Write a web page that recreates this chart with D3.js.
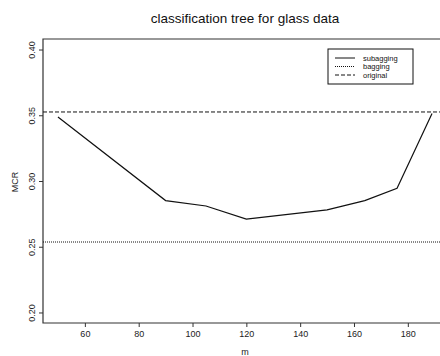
<!DOCTYPE html>
<html>
<head>
<meta charset="utf-8">
<script src="https://d3js.org/d3.v7.min.js"></script>
<style>
  body { margin: 0; background: #fff; }
  svg { display: block; font-family: "Liberation Sans", Arial, sans-serif; }
</style>
</head>
<body>
<div id="chart"></div>
<script>
// subagging curve (subsample size m vs misclassification rate)
const mValues = [50, 90, 105, 120, 150, 164, 176, 189];
const subagging = [0.3487, 0.2851, 0.2810, 0.2710, 0.2780, 0.2851, 0.2945, 0.3513];
const bagging = 0.2536;
const original = 0.3525;

const xTicks = [60, 80, 100, 120, 140, 160, 180];
const yTicks = [0.20, 0.25, 0.30, 0.35, 0.40];
const legendNames = ["subagging", "bagging", "original"];

const width = 440, height = 356;
const margin = { left: 43, right: -7, top: 39, bottom: 33 };

const svg = d3.select("#chart").append("svg")
  .attr("width", width)
  .attr("height", height);

// 4% extension like S graphics
const xScale = d3.scaleLinear()
  .domain([50 - 139 * 0.04, 189 + 139 * 0.04])
  .range([margin.left, width - margin.right]);
const yScale = d3.scaleLinear()
  .domain([0.2 - 0.008, 0.4 + 0.008])
  .range([height - margin.bottom, margin.top]);

const x0 = margin.left, x1 = width - margin.right;
const y0 = height - margin.bottom, y1 = margin.top;

/* plot box (right side runs off the page) */
svg.append("path")
  .attr("d", `M${x1},${y1}H${x0}V${y0}H${x1}`)
  .attr("fill", "none")
  .attr("stroke", "#333")
  .attr("stroke-width", 1.2);

/* axes */
const xAxis = svg.append("g")
  .attr("transform", `translate(0, ${y0})`)
  .call(d3.axisBottom(xScale).tickValues(xTicks).tickSize(4).tickSizeOuter(0).tickFormat(d3.format("d")));
xAxis.select(".domain").remove();
xAxis.selectAll("line").attr("stroke", "#333");
xAxis.selectAll("text")
  .attr("y", 8)
  .attr("fill", "#222")
  .style("font-size", "9px");

const yAxis = svg.append("g")
  .attr("transform", `translate(${x0}, 0)`)
  .call(d3.axisLeft(yScale).tickValues(yTicks).tickSize(4).tickSizeOuter(0).tickFormat(d3.format(".2f")));
yAxis.select(".domain").remove();
yAxis.selectAll("line").attr("stroke", "#333");
yAxis.selectAll("text")
  .attr("x", 0)
  .attr("y", 0)
  .attr("dy", null)
  .attr("text-anchor", "middle")
  .attr("transform", "translate(-8, 0) rotate(-90)")
  .attr("fill", "#222")
  .style("font-size", "9px");

/* reference lines */
svg.append("line")
  .attr("x1", x0).attr("x2", x1)
  .attr("y1", yScale(original)).attr("y2", yScale(original))
  .attr("stroke", "#111").attr("stroke-width", 1)
  .attr("stroke-dasharray", "4,2");

svg.append("line")
  .attr("x1", x0).attr("x2", x1)
  .attr("y1", yScale(bagging)).attr("y2", yScale(bagging))
  .attr("stroke", "#111").attr("stroke-width", 1)
  .attr("stroke-dasharray", "1,1");

/* subagging line */
const line = d3.line()
  .x(d => xScale(d[0]))
  .y(d => yScale(d[1]));

svg.append("path")
  .datum(mValues.map((m, i) => [m, subagging[i]]))
  .attr("d", line)
  .attr("fill", "none")
  .attr("stroke", "#111")
  .attr("stroke-width", 1.2);

/* titles */
svg.append("text")
  .attr("x", 245).attr("y", 23)
  .attr("text-anchor", "middle")
  .attr("fill", "#111")
  .style("font-size", "13.5px")
  .text("classification tree for glass data");

svg.append("text")
  .attr("x", 245).attr("y", 355)
  .attr("text-anchor", "middle")
  .attr("fill", "#222")
  .style("font-size", "9px")
  .text("m");

svg.append("text")
  .attr("transform", "translate(18, 182) rotate(-90)")
  .attr("text-anchor", "middle")
  .attr("fill", "#222")
  .style("font-size", "9px")
  .text("MCR");

/* legend */
const legend = svg.append("g").attr("transform", "translate(328, 49)");
legend.append("rect")
  .attr("width", 85).attr("height", 35)
  .attr("fill", "#fff").attr("stroke", "#111").attr("stroke-width", 1);

const dashes = [null, "1,1", "4,2"];
legendNames.forEach((name, i) => {
  const ly = 9 + i * 8.5;
  legend.append("line")
    .attr("x1", 7).attr("x2", 27)
    .attr("y1", ly).attr("y2", ly)
    .attr("stroke", "#111").attr("stroke-width", 1)
    .attr("stroke-dasharray", dashes[i]);
  legend.append("text")
    .attr("x", 35).attr("y", ly + 2.8)
    .attr("fill", "#111")
    .style("font-size", "7.5px")
    .text(name);
});
</script>
</body>
</html>
